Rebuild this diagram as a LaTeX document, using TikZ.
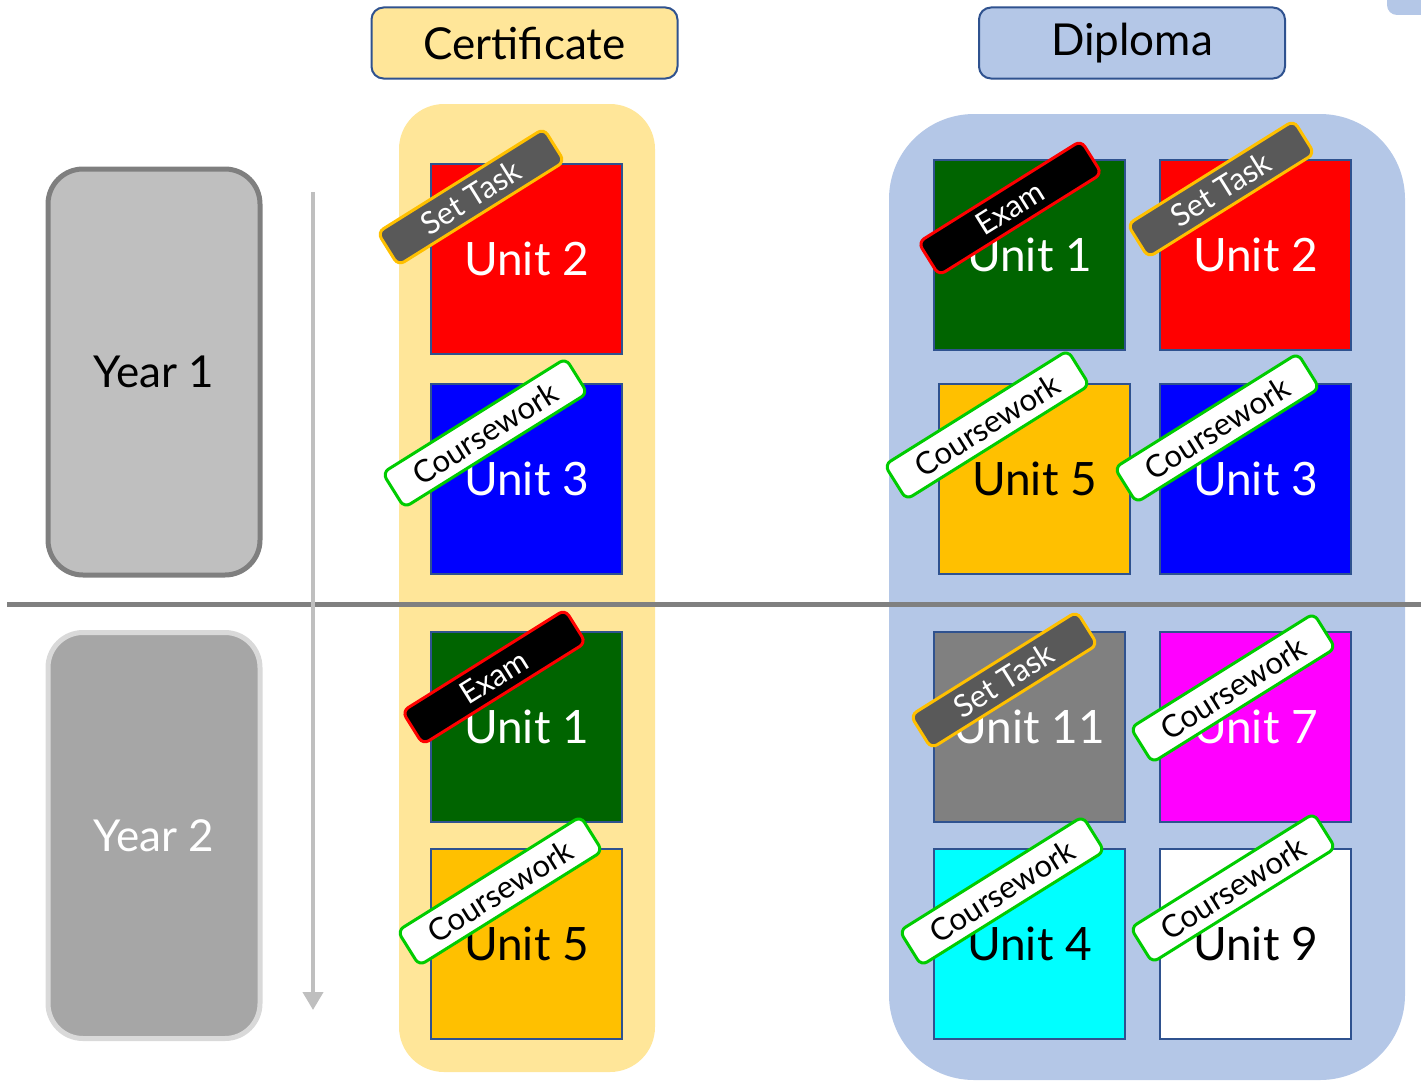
\documentclass[tikz,border=0pt]{standalone}
\usepackage{fontspec}
\setmainfont{Lato}
\usetikzlibrary{arrows.meta}
\definecolor{certfill}{HTML}{FFE699}
\definecolor{dipfill}{HTML}{B4C7E7}
\definecolor{edgeblue}{HTML}{2F528F}
\definecolor{yearonefill}{HTML}{BFBFBF}
\definecolor{yearoneedge}{HTML}{7F7F7F}
\definecolor{yeartwofill}{HTML}{A6A6A6}
\definecolor{yeartwoedge}{HTML}{D9D9D9}
\definecolor{divider}{HTML}{808080}
\definecolor{arrowgray}{HTML}{BFBFBF}
\definecolor{unitred}{HTML}{FF0000}
\definecolor{unitblue}{HTML}{0000FF}
\definecolor{unitgreen}{HTML}{006400}
\definecolor{unitgold}{HTML}{FFC000}
\definecolor{unitgray}{HTML}{808080}
\definecolor{unitmagenta}{HTML}{FF00FF}
\definecolor{unitcyan}{HTML}{00FFFF}
\definecolor{tagdark}{HTML}{595959}
\definecolor{tagorange}{HTML}{FFC000}
\definecolor{taggreen}{HTML}{00CC00}
\tikzset{
  header/.style={draw=edgeblue, line width=2pt, rounded corners=12pt, minimum width=306pt, minimum height=71pt, inner sep=0pt, font=\fontsize{44}{48}\selectfont},
  yearbox/.style={line width=5pt, rounded corners=35pt, minimum width=212pt, minimum height=406pt, inner sep=0pt, font=\fontsize{44}{48}\selectfont},
  unitbox/.style={draw=edgeblue, line width=2pt, minimum width=191pt, minimum height=190pt, inner sep=0pt, font=\fontsize{46}{50}\selectfont, text depth=-3pt},
  tagbase/.style={rounded corners=7pt, line width=3pt, minimum width=196pt, minimum height=39pt, inner sep=0pt, rotate=32, font=\fontsize{31}{34}\selectfont},
  settask/.style={tagbase, fill=tagdark, draw=tagorange, text=white},
  examtag/.style={tagbase, fill=black, draw=red, text=white, minimum width=192pt},
  cwtag/.style={tagbase, fill=white, draw=taggreen, text=black, minimum width=216pt, minimum height=41pt},
}
\begin{document}
\begin{tikzpicture}[x=1pt,y=-1pt]
\useasboundingbox (0,0) rectangle (1421,1081);
% corner fragment
\begin{scope}
\clip (0,0) rectangle (1421,1081);
\fill[dipfill, rounded corners=10pt] (1387,-20) rectangle (1445,15);
\end{scope}
% headers
\node[header, fill=certfill] (certhead) at (524.5,43) {Certificate};
\node[header, fill=dipfill] (diphead) at (1132,43) {Diploma};
% column backgrounds
\node[fill=certfill, rounded corners=45pt, minimum width=256pt, minimum height=968pt, inner sep=0pt] (certcol) at (527,588) {};
\node[fill=dipfill, rounded corners=85pt, minimum width=516pt, minimum height=966pt, inner sep=0pt] (dipcol) at (1147,597) {};
% year boxes
\node[yearbox, fill=yearonefill, draw=yearoneedge] (year1) at (154,372) {Year 1};
\node[yearbox, fill=yeartwofill, draw=yeartwoedge, text=white] (year2) at (154,835.5) {Year 2};
% divider and time arrow
\coordinate (divl) at (7,604);
\coordinate (divr) at (1421,604);
\draw[divider, line width=5pt] (divl) -- (divr);
\coordinate (arrtop) at (313,192);
\coordinate (arrbot) at (313,1010);
\draw[arrowgray, line width=4pt, -{Triangle[width=20pt,length=18pt]}] (arrtop) -- (arrbot);
% certificate units
\node[unitbox, fill=unitred, text=white] (c2) at (526.5,259) {Unit 2};
\node[unitbox, fill=unitblue, text=white] (c3) at (526.5,479) {Unit 3};
\node[unitbox, fill=unitgreen, text=white] (c1) at (526.5,727) {Unit 1};
\node[unitbox, fill=unitgold, text=black] (c5) at (526.5,944) {Unit 5};
% diploma units
\node[unitbox, fill=unitgreen, text=white] (d1) at (1029.5,255) {Unit 1};
\node[unitbox, fill=unitred, text=white] (d2) at (1255.5,255) {Unit 2};
\node[unitbox, fill=unitgold, text=black] (d5) at (1034.5,479) {Unit 5};
\node[unitbox, fill=unitblue, text=white] (d3) at (1255.5,479) {Unit 3};
\node[unitbox, fill=unitgray, text=white] (d11) at (1029.5,727) {Unit 11};
\node[unitbox, fill=unitmagenta, text=white] (d7) at (1255.5,727) {Unit 7};
\node[unitbox, fill=unitcyan, text=black] (d4) at (1029.5,944) {Unit 4};
\node[unitbox, fill=white, text=black] (d9) at (1255.5,944) {Unit 9};
% tags
\node[settask] (tc2) at (471,197) {Set Task};
\node[cwtag] (tc3) at (485,433) {Coursework};
\node[examtag] (tc1) at (494,677) {Exam};
\node[cwtag] (tc5) at (500,891) {Coursework};
\node[examtag] (td1) at (1010,208) {Exam};
\node[settask] (td2) at (1221,189) {Set Task};
\node[cwtag] (td5) at (987,425) {Coursework};
\node[cwtag] (td3) at (1217,428) {Coursework};
\node[settask] (td11) at (1004,680) {Set Task};
\node[cwtag] (td7) at (1233,688) {Coursework};
\node[cwtag] (td4) at (1002,891) {Coursework};
\node[cwtag] (td9) at (1233,888) {Coursework};
\end{tikzpicture}
\end{document}
